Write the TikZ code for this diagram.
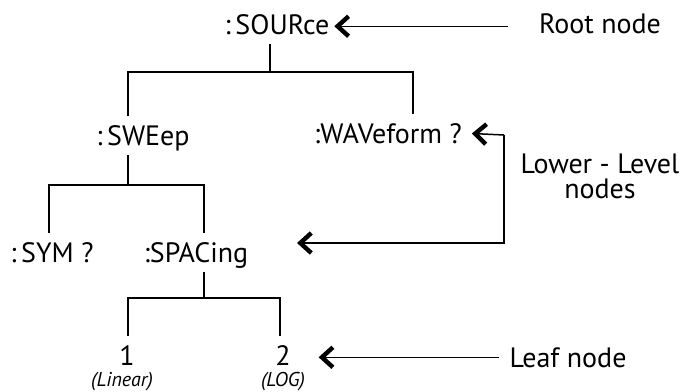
\documentclass[tikz,border=0pt]{standalone}
\usepackage{fontspec}
\setmainfont{PT Sans}
\usetikzlibrary{arrows.meta}
\tikzset{
  cmd/.style={anchor=base, inner sep=0pt, outer sep=5pt, text height=9.5pt, text depth=0pt,
    font=\fontsize{14}{16}\selectfont},
  note/.style={anchor=base, inner sep=0pt, font=\fontsize{14}{16}\selectfont},
  hint/.style={anchor=base, inner sep=0pt, font=\fontsize{10}{11}\selectfont\itshape},
  tree/.style={line width=0.75pt},
  ptr/.style={line width=0.75pt, -{Straight Barb[length=5.5pt,width=10pt,line width=2.2pt]}}
}
\begin{document}
\begin{tikzpicture}[x=0.5pt,y=-0.5pt]
\useasboundingbox (0,0) rectangle (683,391);
% command tree
\node[cmd] (src) at (277,34) {:\,SOURce};
\node[cmd] (swp) at (143,145) {:\,SWEep};
\node[cmd] (wav) at (388,143) {:WAVeform ?};
\node[cmd] (sym) at (52,262) {:\,SYM ?};
\node[cmd] (spc) at (196,262) {:SPACing};
\node[cmd] (one) at (127,365) {1};
\node[cmd] (two) at (283,365) {2};
\node[hint] (lin) at (122,386) {(Linear)};
\node[hint] (log) at (283,386) {(LOG)};
% labels
\node[note] (root) at (600,33) {Root node};
\node[note] (lowa) at (600,173) {Lower - Level};
\node[note] (lowb) at (600,198) {nodes};
\node[note] (leaf) at (568,367) {Leaf node};
% branches
\coordinate (j1) at (270,72);
\coordinate (b1l) at (128,72);
\coordinate (b1r) at (413,72);
\coordinate (b2l) at (49,185);
\coordinate (b2r) at (204,185);
\coordinate (b3l) at (128,298);
\coordinate (b3r) at (280,298);
\draw[tree] (src.south -| j1) -- (j1);
\draw[tree] (b1l |- swp.north) -- (b1l) -- (b1r) -- (b1r |- wav.north);
\draw[tree] (b1l |- swp.south) -- (b1l |- b2l);
\draw[tree] (b2l |- sym.north) -- (b2l) -- (b2r) -- (b2r |- spc.north);
\draw[tree] (b2r |- spc.south) -- (b2r |- b3l);
\draw[tree] (b3l |- one.north) -- (b3l) -- (b3r) -- (b3r |- two.north);
% pointers
\draw[ptr, shorten <=15.5pt, shorten >=-2.5pt] ([yshift=-1.5pt]root.west) -- ([yshift=-1.5pt]root.west -| src.east);
\coordinate (lt) at (504,135);
\coordinate (ltip) at (297,243);
\draw[ptr] (lt) -- (wav.east);
\draw[ptr] (lt) |- (ltip);
\draw[ptr, shorten <=5pt, shorten >=9pt] (leaf.west) -- (leaf.west -| two.east);
\end{tikzpicture}
\end{document}
